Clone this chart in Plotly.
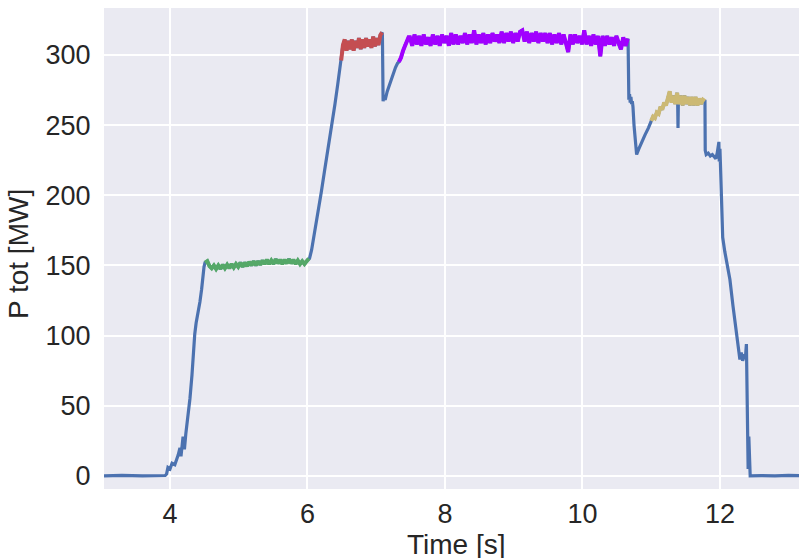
import numpy as np
import plotly.graph_objects as go

# ---- data ----
# blue-only pieces
pre_t = [3.04, 3.3, 3.6, 3.85, 3.93, 3.95, 3.97, 4.0, 4.03, 4.07, 4.10, 4.12, 4.145, 4.16, 4.19, 4.21, 4.23,
         4.26, 4.29, 4.32, 4.34, 4.36, 4.38, 4.41, 4.435, 4.46, 4.48, 4.495]
pre_p = [0, 0.4, 0, 0.5, 0.3, 1.4, 6, 5, 9, 8, 12, 15, 20, 14, 28, 19, 30,
         42, 55, 72, 90, 101, 109, 116, 124, 133, 145, 149]

mid1_t = [6.03, 6.06, 6.10, 6.15, 6.20, 6.25, 6.30, 6.35, 6.40, 6.44, 6.48]
mid1_p = [155, 161, 172, 187, 202, 218, 233, 249, 265, 279, 293]

mid2_t = [7.09, 7.095, 7.10, 7.11, 7.13, 7.16, 7.20, 7.24, 7.28, 7.31]
mid2_p = [314, 285, 267, 270, 268, 274, 280, 286, 291, 294]

mid3_t = [10.664, 10.667, 10.675, 10.685, 10.695, 10.705, 10.715, 10.725, 10.735, 10.75, 10.77,
          10.788, 10.82, 10.86, 10.91, 10.96, 10.995]
mid3_p = [309, 273, 268, 272, 266, 270, 265, 267, 263, 250, 238,
          229, 233, 238, 243, 248, 252]

post_t = [11.782, 11.786, 11.80, 11.83, 11.86, 11.89, 11.92, 11.94, 11.96, 11.985, 11.99, 12.0, 12.01,
          12.025, 12.04, 12.07, 12.10, 12.145, 12.19, 12.23, 12.26, 12.29, 12.31, 12.33, 12.35,
          12.37, 12.385, 12.39, 12.40, 12.41, 12.42, 12.43, 12.44, 12.6, 12.8, 13.0, 13.3]
post_p = [268, 232, 229, 230, 228, 229, 227, 226, 230, 238, 224, 233, 218,
          199, 170, 160, 152, 140, 121, 107, 95, 83, 88, 82, 85,
          84, 94, 75, 40, 5, 28, 2, 0, 0.3, 0, 0.4, 0]

dip_t = [11.385, 11.39, 11.395]
dip_p = [266, 248, 266]

# coloured segments
green_t0, green_t1 = 4.51, 6.02
green_p = [152, 153, 149.5, 148, 150, 147.5, 150, 147.5, 150.5, 148, 150.5, 148, 151, 148.5, 151, 149,
           152, 149, 152, 149.5, 152.5, 150, 153, 150, 153, 150.5, 153.5, 151, 154, 151, 153.5, 151,
           154.5, 151.5, 154, 151, 154, 151.5, 154.5, 151.5, 154, 151, 153.5, 151, 153, 151, 153, 155]

red_t0, red_t1 = 6.49, 7.085
red_p = [296, 307, 311, 303, 310, 304, 311, 303, 310, 305, 312, 304, 311, 305, 312, 306,
         311, 305, 313, 306, 312, 307, 314, 316]

purple_rise_t = [7.33, 7.36, 7.39, 7.42, 7.45, 7.47]
purple_rise_p = [295, 298, 303, 307, 310, 312.5]
purple_t0, purple_t1 = 7.49, 10.66
purple_p = [312.5, 306.5, 314.5, 307.5, 313.5, 306.5, 314.5, 307.5, 312.5, 306.5,
            314.5, 307.5, 313.5, 306.5, 314.5, 308.5, 313.5, 306.5, 315.5, 307.5,
            314.5, 307.5, 313.5, 308.5, 315.5, 307.5, 314.5, 308.5, 317.5, 307.5,
            314.5, 308.5, 315.5, 307.5, 314.5, 308.5, 315.5, 309.5, 314.5, 308.5,
            316.5, 308.5, 315.5, 309.5, 316.5, 308.5, 315.5, 309.5, 316.5, 317.5,
            309.5, 316.5, 308.5, 315.5, 309.5, 316.5, 308.5, 315.5, 309.5, 315.5,
            308.5, 315.5, 307.5, 314.5, 308.5, 315.5, 307.5, 314.5, 308.5, 302,
            314.5, 307.5, 314.5, 308.5, 313.5, 307.5, 317.5, 307.5, 313.5, 306.5,
            314.5, 307.5, 313.5, 299, 313.5, 306.5, 313.5, 307.5, 312.5, 306.5,
            313.5, 307.5, 304, 312.5, 306.5, 311.5]

yellow_t0, yellow_t1 = 11.0, 11.78
yellow_p = [253, 256, 255, 259, 258, 263, 261, 266, 264, 270, 274, 266, 271, 265, 273,
            265, 271, 264, 271, 265, 270, 264, 270, 264, 270, 264, 269, 265, 268, 267]

x_ticks = [4, 6, 8, 10, 12]
y_ticks = [0, 50, 100, 150, 200, 250, 300]

# ---- build ----
green_t = np.linspace(green_t0, green_t1, len(green_p))
red_t = np.linspace(red_t0, red_t1, len(red_p))
purple_t = np.concatenate([purple_rise_t, np.linspace(purple_t0, purple_t1, len(purple_p))])
purple_all = np.concatenate([purple_rise_p, purple_p])
yellow_t = np.linspace(yellow_t0, yellow_t1, len(yellow_p))

bt = np.concatenate([pre_t, green_t, mid1_t, red_t, mid2_t, purple_t, mid3_t, yellow_t, post_t, dip_t])
bp = np.concatenate([pre_p, green_p, mid1_p, red_p, mid2_p, purple_all, mid3_p, yellow_p, post_p, dip_p])
order = np.argsort(bt, kind="stable")
bt, bp = bt[order], bp[order]

fig = go.Figure()
fig.add_trace(go.Scatter(x=bt, y=bp, mode="lines", line=dict(color="#4C72B0", width=3.2), showlegend=False))
for tt, pp, col in [(green_t, green_p, "#55A868"), (red_t, red_p, "#C44E52"),
                    (purple_t, purple_all, "#A100FF"), (yellow_t, yellow_p, "#CCB974")]:
    fig.add_trace(go.Scatter(x=tt, y=pp, mode="lines", line=dict(color=col, width=4), showlegend=False))

font = "Liberation Sans, Arial, sans-serif"
txt = "#262626"
PW, PH = 695, 481
fig.update_layout(
    width=799, height=558,
    margin=dict(l=104, r=0, t=8, b=69),
    paper_bgcolor="white", plot_bgcolor="#EAEAF2",
    font=dict(family=font, color=txt),
    xaxis=dict(range=[3.04, 13.15], tickvals=x_ticks, showgrid=True, gridcolor="white", gridwidth=1.5,
               zeroline=False, showline=False, ticks="outside", ticklen=1, tickcolor="rgba(0,0,0,0)",
               automargin=False, tickfont=dict(size=27, family=font, color=txt)),
    yaxis=dict(range=[-9.3, 333.4], tickvals=y_ticks, showgrid=True, gridcolor="white", gridwidth=1.5,
               zeroline=False, showline=False, ticks="outside", ticklen=7, tickcolor="rgba(0,0,0,0)",
               automargin=False, tickfont=dict(size=27, family=font, color=txt)),
    annotations=[
        dict(text="Time [s]", xref="paper", yref="paper", x=352 / PW, y=-38 / PH,
             xanchor="center", yanchor="top", showarrow=False,
             font=dict(size=28, family=font, color=txt)),
        dict(text="P tot [MW]", xref="paper", yref="paper", x=-85.5 / PW, y=0.5 - 6 / PH,
             xanchor="center", yanchor="middle", textangle=-90, showarrow=False,
             font=dict(size=28, family=font, color=txt)),
    ],
)
fig.write_html(
    "out.html",
    config={"displayModeBar": False},
    post_script=("document.body.style.margin='0';"
                 "document.body.style.overflow='hidden';"
                 "document.documentElement.style.overflow='hidden';"),
)
